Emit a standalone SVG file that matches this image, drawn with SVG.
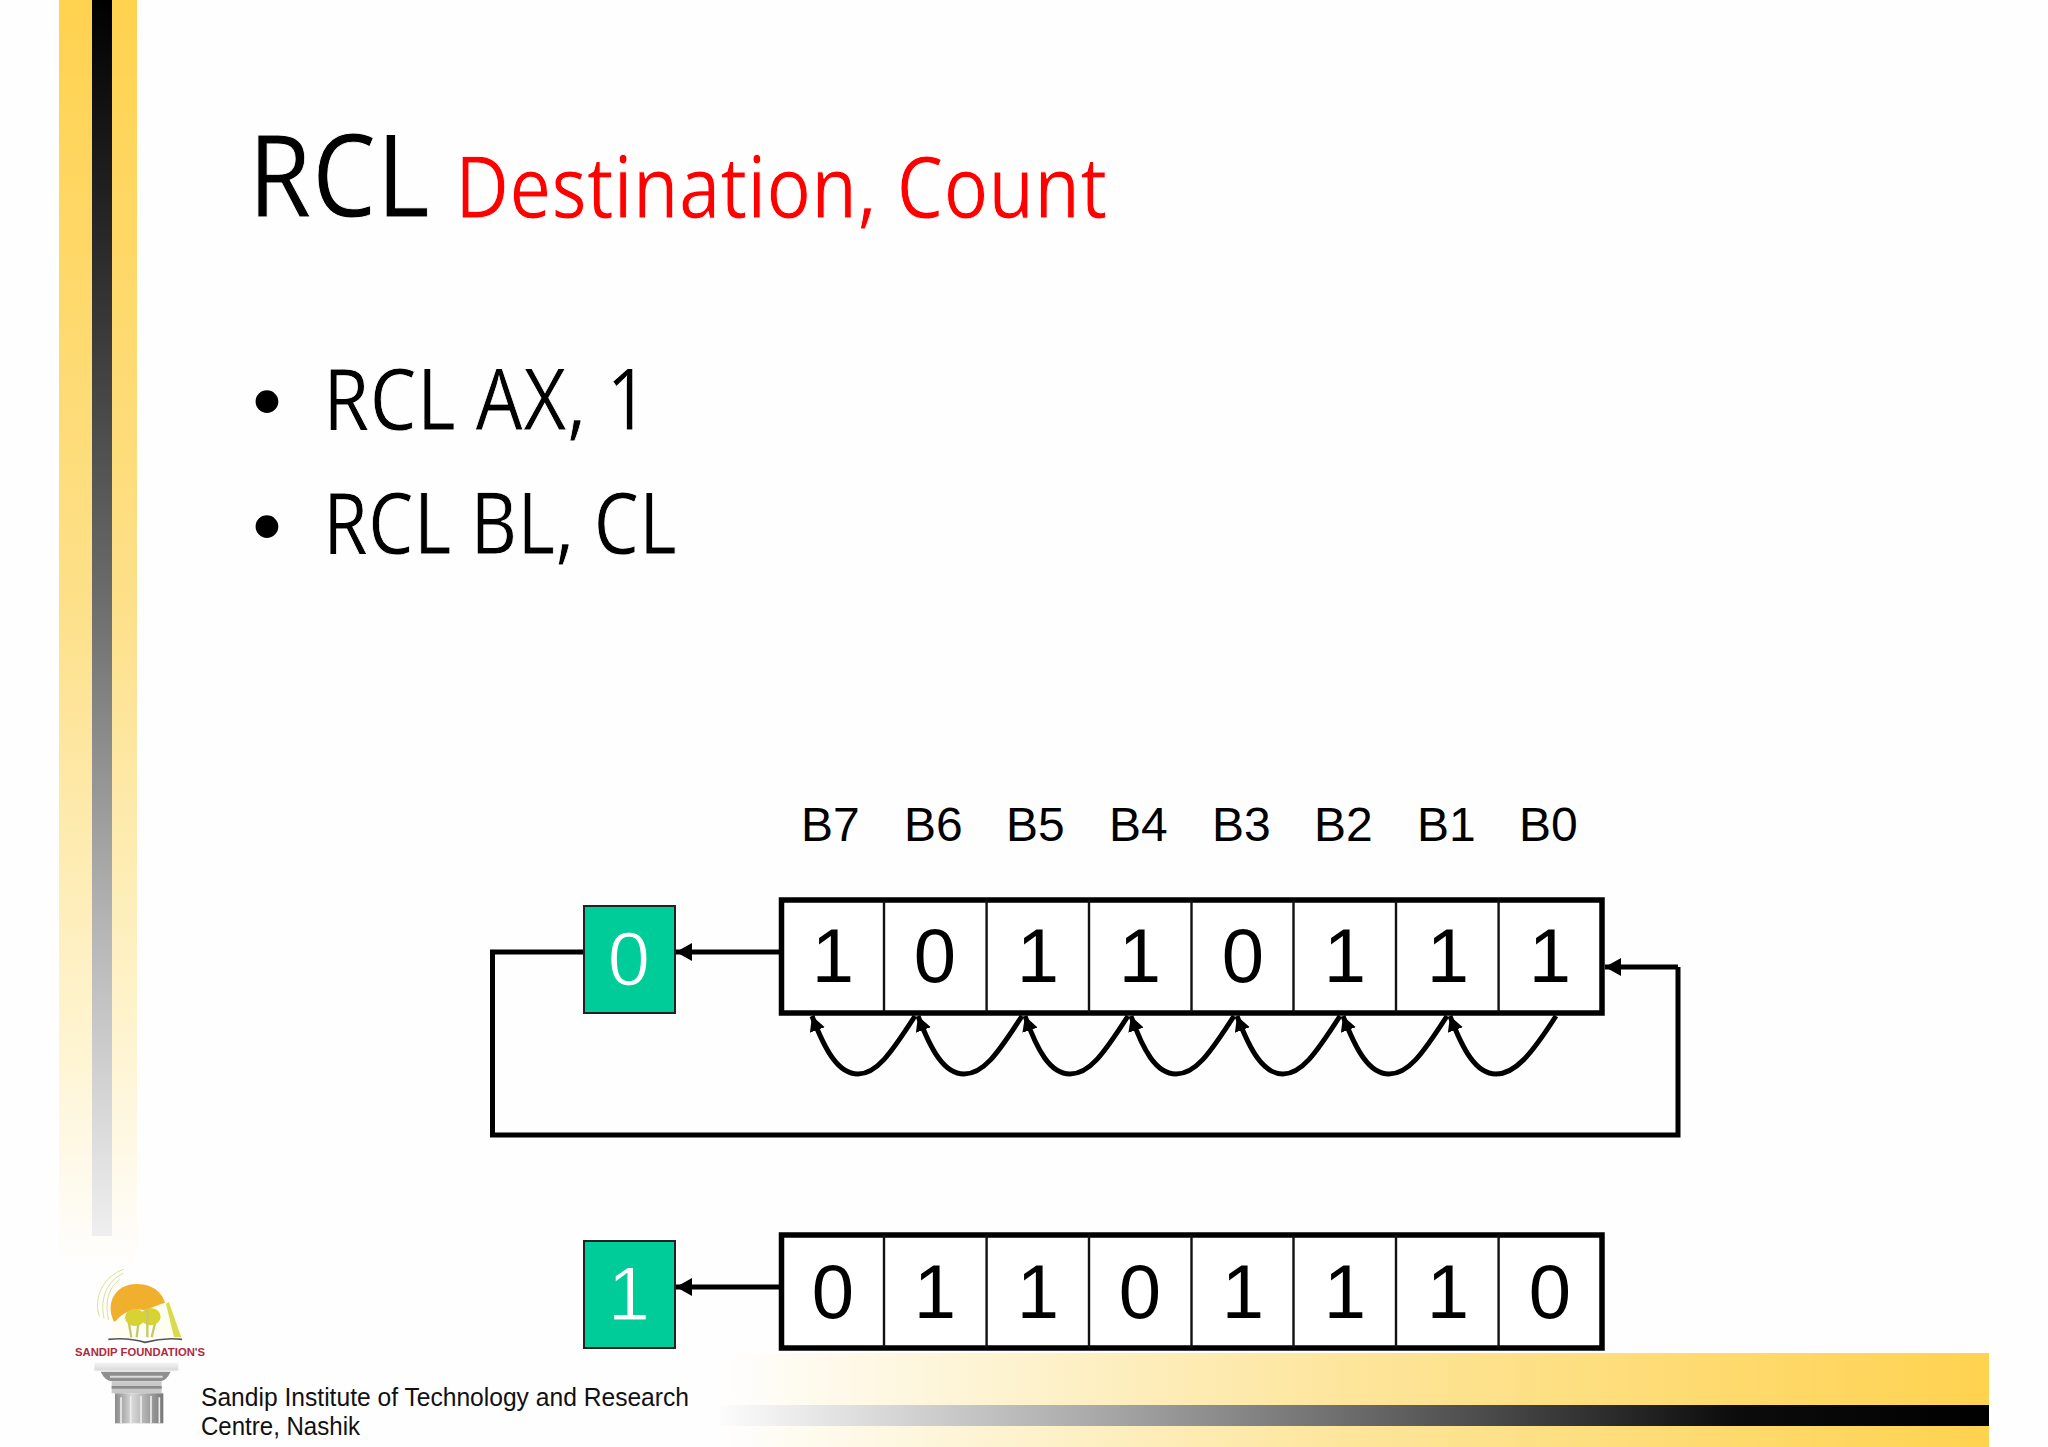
<svg xmlns="http://www.w3.org/2000/svg" width="2048" height="1447" viewBox="0 0 2048 1447">
<style>
.sans{font-family:"Liberation Sans",Arial,sans-serif}
.ttl{font-family:"Noto Sans","Open Sans",sans-serif;stroke:#fefefe;stroke-width:.9}
.lbl{font-size:48px;fill:#000}
.dig{font-size:76px;fill:#000;text-anchor:middle}
.wd{font-size:76px;fill:#fff;text-anchor:middle;stroke:#00CC99;stroke-width:1.2}
.reg{fill:#fff;stroke:#000;stroke-width:5.5}
.div{stroke:#111;stroke-width:2.4}
.box{fill:#00CC99;stroke:#222;stroke-width:2}
.c{fill:none;stroke:#000;stroke-width:5}
.cv{fill:none;stroke:#000;stroke-width:5;marker-end:url(#ah)}
.ln{fill:none;stroke:#000;stroke-width:5;marker-end:url(#al)}
</style>
<defs>
<linearGradient id="gv" x1="0" y1="0" x2="0" y2="1"><stop offset="0" stop-color="#FFD24F"/><stop offset=".48" stop-color="#FDE08A"/><stop offset=".8" stop-color="#FEF3CC"/><stop offset="1" stop-color="#FEFEFE"/></linearGradient>
<linearGradient id="bv" x1="0" y1="0" x2="0" y2="1"><stop offset="0" stop-color="#000"/><stop offset=".2" stop-color="#2a2a2a"/><stop offset=".48" stop-color="#6b6b6b"/><stop offset=".75" stop-color="#b5b5b5"/><stop offset="1" stop-color="#efefef"/></linearGradient>
<linearGradient id="gh" x1="0" y1="0" x2="1" y2="0"><stop offset="0" stop-color="#FEFEFE"/><stop offset=".1" stop-color="#FEF9E8"/><stop offset=".5" stop-color="#FDE59A"/><stop offset="1" stop-color="#FFD24F"/></linearGradient>
<linearGradient id="bh" x1="0" y1="0" x2="1" y2="0"><stop offset="0" stop-color="#FCFCFC"/><stop offset=".3" stop-color="#a8a8a8"/><stop offset=".6" stop-color="#4c4c4c"/><stop offset=".8" stop-color="#0c0c0c"/><stop offset="1" stop-color="#000"/></linearGradient>
<linearGradient id="slab" x1="0" y1="0" x2="0" y2="1"><stop offset="0" stop-color="#f4f4f4"/><stop offset="1" stop-color="#d8d8d8"/></linearGradient>
<linearGradient id="col" x1="0" y1="0" x2="1" y2="0"><stop offset="0" stop-color="#8a8a8a"/><stop offset=".35" stop-color="#d8d8d8"/><stop offset="1" stop-color="#777"/></linearGradient>
<marker id="al" markerUnits="userSpaceOnUse" markerWidth="18" markerHeight="18" refX="16" refY="9" orient="auto"><path d="M0 0L16 9L0 18Z" fill="#000"/></marker>
<marker id="ah" markerUnits="userSpaceOnUse" markerWidth="16" markerHeight="16" refX="15" refY="8" orient="auto"><path d="M0 0L15 8L0 16Z" fill="#000"/></marker>
</defs>
<rect width="2048" height="1447" fill="#FEFEFE"/>
<rect x="59" y="0" width="78" height="1270" fill="url(#gv)"/>
<rect x="92" y="0" width="20" height="1236" fill="url(#bv)"/>
<rect x="720" y="1353" width="1269" height="94" fill="url(#gh)"/>
<rect x="720" y="1405" width="1269" height="21" fill="url(#bh)"/>
<g id="title">
<text class="ttl" x="248" y="217" font-size="116" fill="#000" textLength="182" lengthAdjust="spacingAndGlyphs">RCL</text>
<text class="ttl" x="455" y="218" font-size="86" fill="#f00" textLength="652" lengthAdjust="spacingAndGlyphs">Destination, Count</text>
</g>
<g id="bullets">
<text class="sans" x="267" y="429" font-size="84" text-anchor="middle" fill="#000">•</text>
<text class="ttl" x="323" y="430" font-size="86" fill="#000" textLength="326" lengthAdjust="spacingAndGlyphs">RCL AX, 1</text>
<text class="sans" x="267" y="554" font-size="84" text-anchor="middle" fill="#000">•</text>
<text class="ttl" x="323" y="554" font-size="86" fill="#000" textLength="354" lengthAdjust="spacingAndGlyphs">RCL BL, CL</text>
</g>
<g id="bit-labels" class="sans">
<text class="lbl" x="801" y="841">B7</text><text class="lbl" x="904" y="841">B6</text><text class="lbl" x="1006" y="841">B5</text><text class="lbl" x="1109" y="841">B4</text><text class="lbl" x="1212" y="841">B3</text><text class="lbl" x="1314" y="841">B2</text><text class="lbl" x="1417" y="841">B1</text><text class="lbl" x="1519" y="841">B0</text>
</g>
<g id="register-1" class="sans">
<rect class="reg" x="781.500" y="900" width="820.500" height="113"/>
<path class="div" d="M884 900V1012M986.600 900V1012M1089 900V1012M1191.500 900V1012M1293.500 900V1012M1396 900V1012M1498.600 900V1012"/>
<text class="dig" x="833" y="982">1</text><text class="dig" x="935" y="982">0</text><text class="dig" x="1038" y="982">1</text><text class="dig" x="1140" y="982">1</text><text class="dig" x="1243" y="982">0</text><text class="dig" x="1345" y="982">1</text><text class="dig" x="1448" y="982">1</text><text class="dig" x="1550" y="982">1</text>
</g>
<g id="carry-1" class="sans">
<rect class="box" x="584" y="906" width="91" height="107"/>
<text class="wd" x="629" y="985">0</text>
</g>
<g id="register-2" class="sans">
<rect class="reg" x="781.500" y="1235" width="820.500" height="113"/>
<path class="div" d="M884 1235V1348M986.600 1235V1348M1089 1235V1348M1191.500 1235V1348M1293.500 1235V1348M1396 1235V1348M1498.600 1235V1348"/>
<text class="dig" x="833" y="1318">0</text><text class="dig" x="935" y="1318">1</text><text class="dig" x="1038" y="1318">1</text><text class="dig" x="1140" y="1318">0</text><text class="dig" x="1243" y="1318">1</text><text class="dig" x="1345" y="1318">1</text><text class="dig" x="1448" y="1318">1</text><text class="dig" x="1550" y="1318">0</text>
</g>
<g id="carry-2" class="sans">
<rect class="box" x="584" y="1241" width="91" height="107"/>
<text class="wd" x="629" y="1320">1</text>
</g>
<g id="connectors">
<path class="ln" d="M779 952H676"/>
<path class="ln" d="M779 1287H676"/>
<path class="c" d="M583 952H492.500V1135H1678V967"/>
<path class="ln" d="M1678 967H1605"/>
<path class="cv" d="M915 1016C890 1055 876 1074 858 1074C838 1074 825 1050 812 1016"/>
<path class="cv" d="M1022 1016C997 1055 983 1074 964 1074C944 1074 931 1050 918 1016"/>
<path class="cv" d="M1128 1016C1103 1055 1089 1074 1070 1074C1050 1074 1037 1050 1025 1016"/>
<path class="cv" d="M1234 1016C1209 1055 1195 1074 1176 1074C1156 1074 1143 1050 1131 1016"/>
<path class="cv" d="M1340 1016C1315 1055 1301 1074 1283 1074C1263 1074 1250 1050 1237 1016"/>
<path class="cv" d="M1447 1016C1422 1055 1408 1074 1389 1074C1369 1074 1356 1050 1343 1016"/>
<path class="cv" d="M1556 1016C1531 1055 1515 1074 1496 1074C1476 1074 1463 1050 1450 1016"/>
</g>
<g id="logo" transform="translate(60 1260) scale(.33333)">
<g fill="none" stroke="#D9E08E" stroke-width="3">
<path d="M190 28C130 50 100 110 118 170"/>
<path d="M190 40C145 60 118 110 132 176"/>
<path d="M180 58C150 78 132 120 146 180"/>
</g>
<path d="M162 185C135 130 165 72 230 72C285 72 315 105 318 145L250 150Z" fill="#F0B02E"/>
<path d="M168 182C195 150 230 143 255 152C285 138 305 130 328 125L362 232L150 235Z" fill="#FDFDF2"/>
<path d="M326 125L364 232L342 232L318 132Z" fill="#D9DB4E"/>
<g fill="#D8D232">
<ellipse cx="225" cy="172" rx="30" ry="26"/>
<ellipse cx="272" cy="170" rx="30" ry="26"/>
</g>
<path d="M207 190L214 232M235 190L230 232M262 150V232M285 190L275 232" fill="none" stroke="#C9C76A" stroke-width="7"/>
<path d="M145 238Q205 232 255 247Q310 232 366 238" fill="none" stroke="#555" stroke-width="5"/>
<text x="45" y="288" class="sans" font-size="34" font-weight="700" fill="#B02A3C" textLength="390" lengthAdjust="spacingAndGlyphs">SANDIP FOUNDATION'S</text>
<rect x="103" y="308" width="252" height="24" fill="url(#slab)"/>
<path d="M122 335H332Q320 362 300 364H155Q135 362 122 335Z" fill="#8f8f8f"/>
<path d="M150 350H308" stroke="#dcdcdc" stroke-width="6"/>
<rect x="155" y="364" width="150" height="36" fill="#c9c9c9"/>
<rect x="155" y="378" width="150" height="8" fill="#8a8a8a"/>
<rect x="165" y="400" width="145" height="90" fill="url(#col)"/>
<path d="M183 412V490M212 408V490M243 408V490M273 408V490M298 412V490" stroke="#eee" stroke-width="5" fill="none"/>
</g>
<g id="footer" class="sans" fill="#111" font-size="25">
<text x="201" y="1406" textLength="488" lengthAdjust="spacingAndGlyphs">Sandip Institute of Technology and Research</text>
<text x="201" y="1435" textLength="159" lengthAdjust="spacingAndGlyphs">Centre, Nashik</text>
</g>
</svg>
